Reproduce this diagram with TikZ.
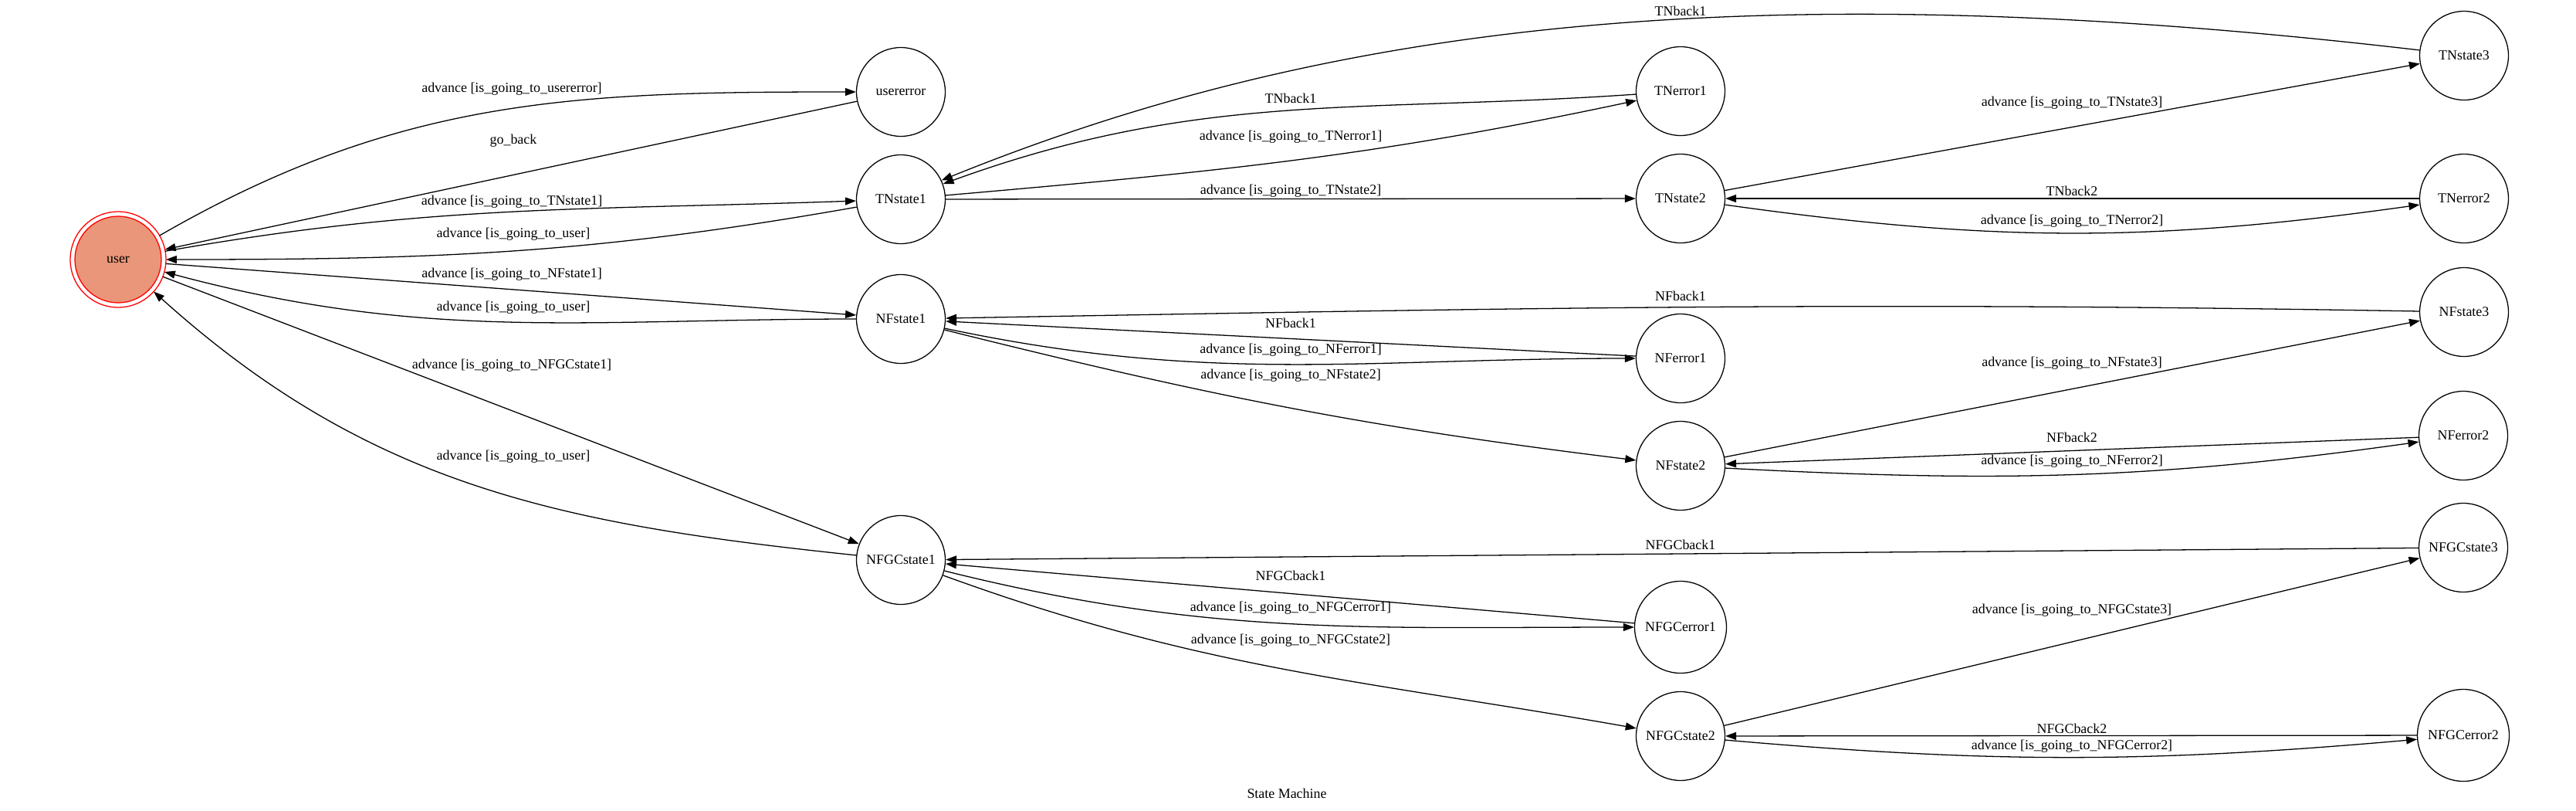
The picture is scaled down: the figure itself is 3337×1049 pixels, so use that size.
\documentclass[tikz,border=0pt]{standalone}
\usepackage{fontspec}
\setmainfont{Liberation Serif}
\usetikzlibrary{arrows.meta}
\definecolor{darksalmon}{HTML}{E9967A}

\begin{document}
\begin{tikzpicture}[x=0.02cm,y=-0.02cm,line width=0.73pt,
	>={Triangle[length=0.28cm,width=0.2cm]},
	every node/.style={font=\fontsize{10.2}{12}\selectfont},
	zustand/.style={circle,draw,inner sep=0pt,minimum size=2.3cm},
	marke/.style={inner sep=1pt}]
\useasboundingbox (0,0) rectangle (3337,1049);
\node[zustand,draw=red,fill=darksalmon,minimum size=2.24cm,outer sep=0.12cm] (user) at (153,336) {user};
\draw[red] (user.center) circle[radius=1.24cm];
\foreach \n/\x/\y in {usererror/1167/119,TNstate1/1167/258,NFstate1/1167/413,NFGCstate1/1167/725,
	TNerror1/2177/118,TNstate2/2177/257,NFerror1/2177/464,NFstate2/2177/603,NFGCstate2/2177/953,
	TNstate3/3192/72,TNerror2/3192/257,NFstate3/3192/404,NFerror2/3191/564,NFGCstate3/3191/709}{
	\node[zustand] (\n) at (\x,\y) {\n};
}
\node[zustand,minimum size=2.38cm] (NFGCerror1) at (2177,812) {NFGCerror1};
\node[zustand,minimum size=2.38cm] (NFGCerror2) at (3191,952) {NFGCerror2};

\draw[->] (user) to[out=30,in=180] (usererror) node[marke] (l1) at (663,115) {advance [is\_going\_to\_usererror]};
\draw[->] (usererror) -- (user) node[marke] (l2) at (665,182) {go\_back};
\draw[->] (user) to[out=10,in=182] (TNstate1) node[marke] (l3) at (663,261) {advance [is\_going\_to\_TNstate1]};
\draw[->] (TNstate1) to[out=190,in=0] (user) node[marke] (l4) at (665,303) {advance [is\_going\_to\_user]};
\draw[->] (user.-5) -- (NFstate1.175) node[marke] (l5) at (663,355) {advance [is\_going\_to\_NFstate1]};
\draw[->] (NFstate1) to[out=180,in=-15] (user) node[marke] (l6) at (665,398) {advance [is\_going\_to\_user]};
\draw[->] (user) -- (NFGCstate1) node[marke] (l7) at (663,473) {advance [is\_going\_to\_NFGCstate1]};
\draw[->] (NFGCstate1) to[out=174,in=-42] (user) node[marke] (l8) at (665,591) {advance [is\_going\_to\_user]};

\draw[->] (TNstate1) to[out=5,in=192] (TNerror1) node[marke] (l9) at (1672,177) {advance [is\_going\_to\_TNerror1]};
\draw[->] (TNerror1) to[out=184,in=20] (TNstate1) node[marke] (l10) at (1672,127) {TNback1};
\draw[->] (TNstate3.173) .. controls (2235,-40) and (1698,40) .. (TNstate1.25) node[marke] (l11) at (2177,14) {TNback1};
\draw[->] (TNstate1) -- (TNstate2) node[marke] (l12) at (1672,247) {advance [is\_going\_to\_TNstate2]};
\draw[->] (TNstate2) -- (TNstate3) node[marke] (l13) at (2684,133) {advance [is\_going\_to\_TNstate3]};
\draw[->] (TNerror2) -- (TNstate2) node[marke] (l14) at (2684,247) {TNback2};
\draw[->] (TNstate2) to[out=-8,in=188] (TNerror2) node[marke] (l15) at (2684,286) {advance [is\_going\_to\_TNerror2]};

\draw[->] (NFstate3.179) .. controls (2387,390) and (1972,399) .. (NFstate1.1) node[marke] (l16) at (2177,383) {NFback1};
\draw[->] (NFerror1) -- (NFstate1) node[marke] (l17) at (1672,418) {NFback1};
\draw[->] (NFstate1) to[out=-12,in=180] (NFerror1) node[marke] (l18) at (1672,453) {advance [is\_going\_to\_NFerror1]};
\draw[->] (NFstate1) to[out=-14,in=173] (NFstate2) node[marke] (l19) at (1672,486) {advance [is\_going\_to\_NFstate2]};
\draw[->] (NFstate2) -- (NFstate3) node[marke] (l20) at (2684,470) {advance [is\_going\_to\_NFstate3]};
\draw[->] (NFerror2) -- (NFstate2) node[marke] (l21) at (2684,566) {NFback2};
\draw[->] (NFstate2) to[out=-3,in=188] (NFerror2) node[marke] (l22) at (2684,597) {advance [is\_going\_to\_NFerror2]};

\draw[->] (NFGCstate3) -- (NFGCstate1) node[marke] (l23) at (2177,705) {NFGCback1};
\draw[->] (NFGCerror1) -- (NFGCstate1) node[marke] (l24) at (1672,745) {NFGCback1};
\draw[->] (NFGCstate1) to[out=-14,in=180] (NFGCerror1) node[marke] (l25) at (1672,787) {advance [is\_going\_to\_NFGCerror1]};
\draw[->] (NFGCstate1) to[out=-20,in=170] (NFGCstate2) node[marke] (l26) at (1672,829) {advance [is\_going\_to\_NFGCstate2]};
\draw[->] (NFGCstate2) -- (NFGCstate3) node[marke] (l27) at (2684,790) {advance [is\_going\_to\_NFGCstate3]};
\draw[->] (NFGCerror2) -- (NFGCstate2) node[marke] (l28) at (2684,943) {NFGCback2};
\draw[->] (NFGCstate2) to[out=-5,in=185] (NFGCerror2) node[marke] (l29) at (2684,966) {advance [is\_going\_to\_NFGCerror2]};

\node (titel) at (1667,1027) {State Machine};
\end{tikzpicture}
\end{document}
